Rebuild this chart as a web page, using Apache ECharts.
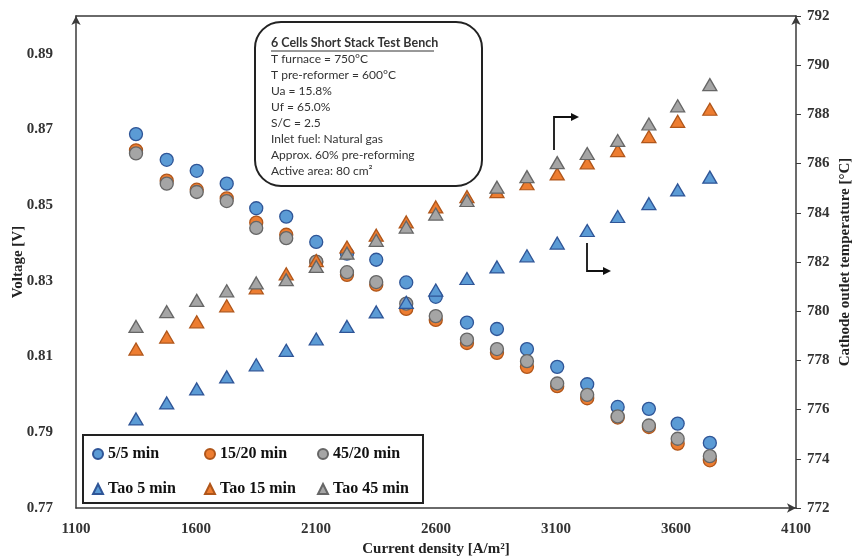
<!DOCTYPE html>
<html>
<head>
<meta charset="utf-8">
<script src="https://cdn.jsdelivr.net/npm/echarts@6/dist/echarts.min.js"></script>
<style>
  html, body { margin: 0; padding: 0; background: #fff; }
  #chart { width: 860px; height: 560px; }
</style>
</head>
<body>
<div id="chart"></div>
<script>
// Current density [A/m2] of each operating point
const currentDensity = [1350, 1478, 1603, 1728, 1851, 1976, 2101, 2229, 2351, 2476,
                        2599, 2729, 2854, 2979, 3105, 3230, 3357, 3487, 3607, 3741];

// Stack voltage [V]
const volt5_5   = [0.8688, 0.8620, 0.8591, 0.8557, 0.8492, 0.8470, 0.8403, 0.8372, 0.8356, 0.8296,
                   0.8258, 0.8190, 0.8173, 0.8120, 0.8073, 0.8027, 0.7967, 0.7962, 0.7923, 0.7872];
const volt15_20 = [0.8645, 0.8565, 0.8541, 0.8518, 0.8454, 0.8422, 0.8350, 0.8316, 0.8290, 0.8226,
                   0.8197, 0.8136, 0.8110, 0.8073, 0.8022, 0.7990, 0.7939, 0.7914, 0.7870, 0.7826];
const volt45_20 = [0.8637, 0.8557, 0.8535, 0.8511, 0.8440, 0.8413, 0.8351, 0.8323, 0.8297, 0.8240,
                   0.8207, 0.8145, 0.8120, 0.8088, 0.8029, 0.7999, 0.7942, 0.7918, 0.7883, 0.7837];

// Cathode outlet temperature [°C]
const tao5  = [775.62, 776.27, 776.84, 777.33, 777.82, 778.41, 778.87, 779.38, 779.97, 780.36,
               780.86, 781.33, 781.80, 782.25, 782.77, 783.28, 783.85, 784.37, 784.93, 785.45];
const tao15 = [778.46, 778.95, 779.57, 780.22, 780.95, 781.52, 782.06, 782.61, 783.09, 783.63,
               784.24, 784.66, 784.86, 785.18, 785.58, 786.03, 786.53, 787.10, 787.72, 788.21];
const tao45 = [779.38, 779.98, 780.44, 780.83, 781.15, 781.28, 781.82, 782.36, 782.88, 783.42,
               783.95, 784.50, 785.04, 785.47, 786.04, 786.41, 786.94, 787.61, 788.35, 789.21];

// Test bench conditions listed in the note box
const noteTitle = '6 Cells Short Stack Test Bench';
const noteLines = [
  'T furnace = 750°C',
  'T pre-reformer = 600°C',
  'Ua = 15.8%',
  'Uf = 65.0%',
  'S/C = 2.5',
  'Inlet fuel: Natural gas',
  'Approx. 60% pre-reforming',
  'Active area: 80 cm²'
];

const pair = (ys) => currentDensity.map((x, i) => [x, ys[i]]);

const BLUE = '#5B9BD5', BLUE_B = '#2F5597';
const ORANGE = '#ED7D31', ORANGE_B = '#B0561A';
const GREY = '#A5A5A5', GREY_B = '#666666';
const AXIS = '#3a3a3a';
const serif = '"Liberation Serif", "Times New Roman", serif';

function circleSeries(name, ys, fill, border) {
  return {
    name, type: 'scatter', yAxisIndex: 0, data: pair(ys),
    symbol: 'circle', symbolSize: 13,
    itemStyle: { color: fill, borderColor: border, borderWidth: 1.3, opacity: 1 },
    emphasis: { disabled: true }
  };
}
function triSeries(name, ys, fill, border) {
  return {
    name, type: 'scatter', yAxisIndex: 1, data: pair(ys),
    symbol: 'triangle', symbolSize: [14, 12],
    itemStyle: { color: fill, borderColor: border, borderWidth: 1.3, opacity: 1 },
    emphasis: { disabled: true }
  };
}

const legendText = { fontFamily: serif, fontWeight: 'bold', fontSize: 16, color: '#111' };
function legendColumn(left, names) {
  return {
    orient: 'vertical', left, top: 446, z: 20,
    itemWidth: 10, itemHeight: 10, itemGap: 19, padding: 0,
    textStyle: legendText,
    selectedMode: false,
    data: [{ name: names[0], icon: 'circle' }, { name: names[1], icon: 'triangle' }]
  };
}

// Note box: rounded frame, underlined title and condition lines
const noteX = 271, noteY0 = 43, noteStep = 16;
const noteGraphics = [
  { type: 'rect', shape: { x: 255, y: 22, width: 227, height: 164, r: 26 },
    style: { fill: '#fff', stroke: '#222', lineWidth: 2 }, z: 10 },
  { type: 'text', x: noteX, y: noteY0, z: 11,
    style: { text: noteTitle, font: 'bold 12.5px Lato, "Open Sans", sans-serif',
             fill: '#333', textVerticalAlign: 'middle' } },
  { type: 'line', z: 11, shape: { x1: noteX, y1: noteY0 + 8, x2: noteX + 163, y2: noteY0 + 8 },
    style: { stroke: '#333', lineWidth: 1 } }
].concat(noteLines.map((t, i) => ({
  type: 'text', x: noteX, y: noteY0 + noteStep * (i + 1), z: 11,
  style: { text: t, font: '12px Lato, "Open Sans", sans-serif', fill: '#333',
           textVerticalAlign: 'middle' }
})));

// Bent arrows pointing to the temperature axis
function bentArrow(x, yStart, yTurn, xEnd) {
  return [
    { type: 'polyline', z: 12, shape: { points: [[x, yStart], [x, yTurn], [xEnd - 6, yTurn]] },
      style: { stroke: '#111', lineWidth: 1.8, fill: null } },
    { type: 'polygon', z: 12, shape: { points: [[xEnd, yTurn], [xEnd - 8, yTurn - 4], [xEnd - 8, yTurn + 4]] },
      style: { fill: '#111' } }
  ];
}

const legendBox = { type: 'rect', shape: { x: 83, y: 435, width: 340, height: 68 },
  style: { fill: '#fff', stroke: '#222', lineWidth: 2 }, z: 1 };

const nameStyle = { fontFamily: serif, fontWeight: 'bold', fontSize: 15, color: '#222' };

const chart = echarts.init(document.getElementById('chart'), null, { renderer: 'canvas' });
chart.setOption({
  animation: false,
  backgroundColor: '#fff',
  grid: { left: 76, right: 64, top: 16, bottom: 52, containLabel: false, outerBoundsMode: 'none' },
  xAxis: [{
    type: 'value', min: 1100, max: 4100, interval: 100,
    name: 'Current density [A/m²]', nameLocation: 'middle', nameGap: 34, nameMoveOverlap: false,
    nameTextStyle: nameStyle,
    axisLine: { show: true, lineStyle: { color: AXIS, width: 1.5 },
                symbol: ['none', 'arrow'], symbolSize: [7, 9] },
    axisTick: { show: false },
    splitLine: { show: false },
    axisLabel: { fontFamily: serif, fontWeight: 'bold', fontSize: 15, color: '#333', margin: 14,
                 formatter: v => ((Math.round(v) - 1100) % 500 === 0 ? String(Math.round(v)) : '') }
  }, {
    type: 'value', min: 1100, max: 4100, position: 'top',
    axisLine: { show: true, lineStyle: { color: AXIS, width: 1.5 } },
    axisTick: { show: false }, axisLabel: { show: false }, splitLine: { show: false }
  }],
  yAxis: [{
    type: 'value', min: 0.77, max: 0.90, interval: 0.01,
    name: 'Voltage [V]', nameLocation: 'middle', nameGap: 50, nameRotate: 90, nameMoveOverlap: false,
    nameTextStyle: nameStyle,
    axisLine: { show: true, lineStyle: { color: AXIS, width: 1.5 },
                symbol: ['none', 'arrow'], symbolSize: [7, 9] },
    axisTick: { show: false },
    splitLine: { show: false },
    axisLabel: { fontFamily: serif, fontWeight: 'bold', fontSize: 15, color: '#333', margin: 23,
                 formatter: v => (Math.round(v * 100) % 2 === 1 ? v.toFixed(2) : '') }
  }, {
    type: 'value', min: 772, max: 792, interval: 2, position: 'right',
    name: 'Cathode outlet temperature [°C]', nameLocation: 'middle', nameGap: 42, nameRotate: 90,
    nameMoveOverlap: false,
    nameTextStyle: nameStyle,
    axisLine: { show: true, lineStyle: { color: AXIS, width: 1.5 },
                symbol: ['none', 'arrow'], symbolSize: [7, 9] },
    axisTick: { show: true, length: 5, lineStyle: { color: AXIS, width: 1 } },
    splitLine: { show: false },
    axisLabel: { fontFamily: serif, fontWeight: 'bold', fontSize: 15, color: '#333', margin: 11 }
  }],
  legend: [
    legendColumn(92, ['5/5 min', 'Tao 5 min']),
    legendColumn(204, ['15/20 min', 'Tao 15 min']),
    legendColumn(317, ['45/20 min', 'Tao 45 min'])
  ],
  graphic: [legendBox].concat(noteGraphics, bentArrow(554, 150, 117, 579), bentArrow(587, 243, 271, 611)),
  series: [
    circleSeries('5/5 min', volt5_5, BLUE, BLUE_B),
    circleSeries('15/20 min', volt15_20, ORANGE, ORANGE_B),
    circleSeries('45/20 min', volt45_20, GREY, GREY_B),
    triSeries('Tao 5 min', tao5, BLUE, BLUE_B),
    triSeries('Tao 15 min', tao15, ORANGE, ORANGE_B),
    triSeries('Tao 45 min', tao45, GREY, GREY_B)
  ]
});
</script>
</body>
</html>
